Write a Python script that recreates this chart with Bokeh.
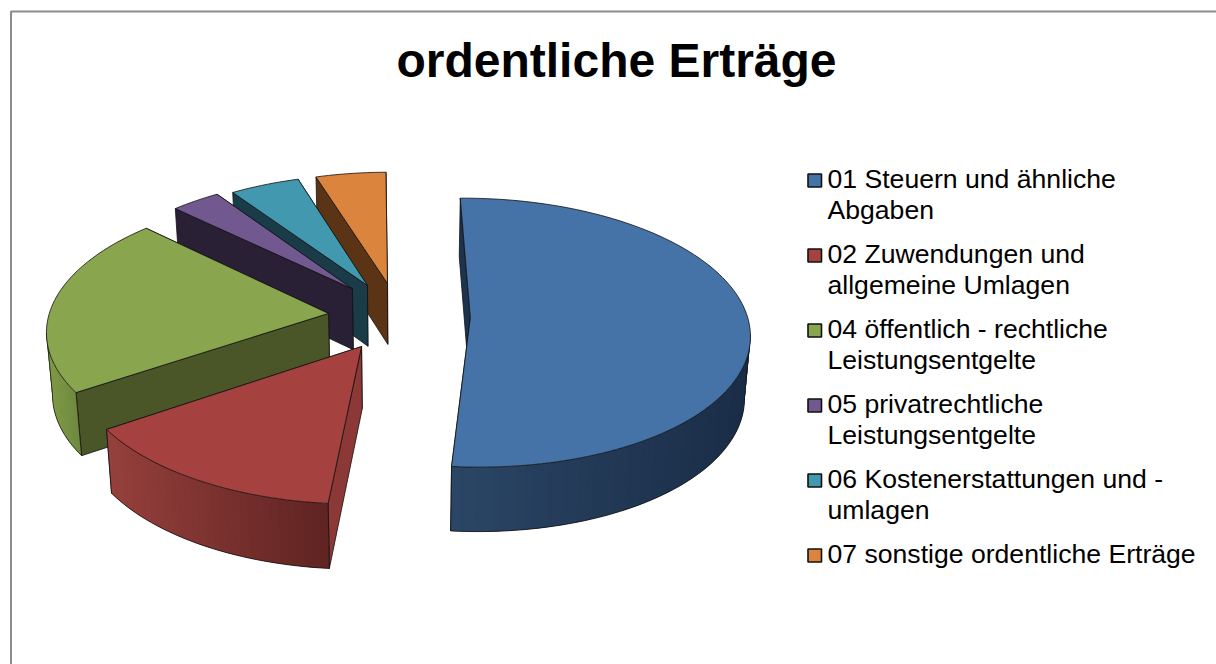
import math
from bokeh.plotting import figure
from bokeh.embed import file_html
from bokeh.resources import INLINE
from bokeh.core.properties import value

TITLE = "ordentliche Erträge"
CATEGORIES = [
    ["01 Steuern und ähnliche", "Abgaben"],
    ["02 Zuwendungen und", "allgemeine Umlagen"],
    ["04 öffentlich - rechtliche", "Leistungsentgelte"],
    ["05 privatrechtliche", "Leistungsentgelte"],
    ["06 Kostenerstattungen und -", "umlagen"],
    ["07 sonstige ordentliche Erträge"],
]
VALUES = [51.6, 14.2, 21.5, 3.3, 4.7, 4.7]
TOP_COLORS = ["#4572a7", "#a5423f", "#89a54e", "#71588f", "#4198af", "#db843d"]
FACE_COLORS = ["#1c3350", "#8b3836", "#4a5528", "#2a2036", "#193c48", "#5a3415"]
SIDE_LEFT = ["#2b4666", "#96403d", "#7f9b47", "#2a2036", "#193c48", "#5a3415"]
SIDE_RIGHT = ["#1a2d47", "#602422", "#6f8a3e", "#2a2036", "#193c48", "#5a3415"]
# where each exploded slice's tip sits on the pie's plane, and its radius there
TIP_X = [0.245, -0.136, -0.257, -0.176, -0.122, -0.049]
TIP_Y = [0.0, -0.209, 0.03, 0.217, 0.243, 0.258]
RADIUS = [0.98, 0.98, 0.99, 0.97, 0.958, 0.965]
START_ANGLE = -0.7

CX, CY, A, B, K = 400.5, 317.0, 283.0, 135.5, 0.115


def project(X, Y):
    w = 1 + K * Y
    return CX + A * X / w, CY - B * Y / w


def drop(X, Y):
    sx, sy = project(X, Y)
    return CX + (sx - CX) * 0.983, sy + 61.5 - 3.0 * Y


def hex_rgb(c):
    return [int(c[i:i + 2], 16) for i in (1, 3, 5)]


def mix(c1, c2, t):
    a, b = hex_rgb(c1), hex_rgb(c2)
    return "#%02x%02x%02x" % tuple(round(u + (v - u) * t) for u, v in zip(a, b))


p = figure(width=1216, height=664, x_range=(0, 1216), y_range=(664, 0),
           output_backend="svg", toolbar_location=None, min_border=0)
p.axis.visible = False
p.grid.visible = False
p.outline_line_color = None
p.background_fill_color = "white"
p.border_fill_color = "white"

# chart frame: only its top and left edges fall inside the page
p.line([10.5, 10.5, 1216], [664, 11, 11], line_color="#8c8c8c", line_width=2)

# slices, from the stored values
total = sum(VALUES)
angles = [math.radians(START_ANGLE)]
for v in VALUES:
    angles.append(angles[-1] + v / total * 2 * math.pi)

EDGE = "#111111"
for i in [5, 4, 3, 2, 1, 0]:
    t0, t1 = angles[i], angles[i + 1]
    ax, ay = TIP_X[i], TIP_Y[i]
    n = max(8, int((t1 - t0) / math.radians(1.5)))
    arc = [(ax + RADIUS[i] * math.sin(t0 + (t1 - t0) * j / n),
            ay + RADIUS[i] * math.cos(t0 + (t1 - t0) * j / n)) for j in range(n + 1)]

    # radial cut faces, far one first
    faces = sorted([arc[0], arc[-1]], key=lambda q: -q[1])
    for q in faces:
        tops = [project(ax, ay), project(*q)]
        bots = [drop(*q), drop(ax, ay)]
        xs = [u[0] for u in tops + bots]
        ys = [u[1] for u in tops + bots]
        p.patch(xs, ys, fill_color=FACE_COLORS[i], line_color=EDGE, line_width=0.8)

    # outer wall: only the part turned to the viewer, shaded left to right
    scr = [project(*q) for q in arc]
    low = [drop(*q) for q in arc]
    vis = [j for j in range(n) if scr[j + 1][0] < scr[j][0]]
    if vis:
        lo = min(scr[j + 1][0] for j in vis)
        hi = max(scr[j][0] for j in vis)
        qx, qy, qc = [], [], []
        last = vis[-1] + 1
        for j in vis:
            e = min(j + 2, last)   # each strip runs under the next, which closes the seams
            qx.append([scr[j][0], scr[j + 1][0], scr[e][0], low[e][0], low[j + 1][0], low[j][0]])
            qy.append([scr[j][1], scr[j + 1][1], scr[e][1], low[e][1], low[j + 1][1], low[j][1]])
            qc.append(mix(SIDE_LEFT[i], SIDE_RIGHT[i], (scr[j][0] - lo) / max(hi - lo, 1)))
        p.patches(qx, qy, fill_color=qc, line_color=None)
        first = vis[0]
        ox = [low[j][0] for j in range(first, last + 1)]
        oy = [low[j][1] for j in range(first, last + 1)]
        p.line(ox, oy, line_color=EDGE, line_width=0.8)
        p.line([scr[first][0], low[first][0]], [scr[first][1], low[first][1]],
               line_color=EDGE, line_width=0.8)
        p.line([scr[last][0], low[last][0]], [scr[last][1], low[last][1]],
               line_color=EDGE, line_width=0.8)

    # top face
    ap = project(ax, ay)
    p.patch([ap[0]] + [u[0] for u in scr], [ap[1]] + [u[1] for u in scr],
            fill_color=TOP_COLORS[i], line_color=EDGE, line_width=0.8)

# title
p.text([616], [60], text=[TITLE], text_font=value("Liberation Sans"), text_font_style="bold",
       text_font_size="48px", text_align="center", text_baseline="alphabetic", text_color="black")

# legend
y = 189
for label, color in zip(CATEGORIES, TOP_COLORS):
    p.quad(left=[807.5], right=[821], top=[173.5 + y - 189], bottom=[186.5 + y - 189],
           fill_color=color, line_color="#111111", line_width=1.6)
    for line in label:
        p.text([827], [y - 11], text=[line], text_font=value("Liberation Sans"),
               text_font_size="26.6px", text_align="left", text_baseline="alphabetic",
               text_color="black")
        y += 31
    y += 13

open("out.html", "w").write(file_html(p, INLINE))
